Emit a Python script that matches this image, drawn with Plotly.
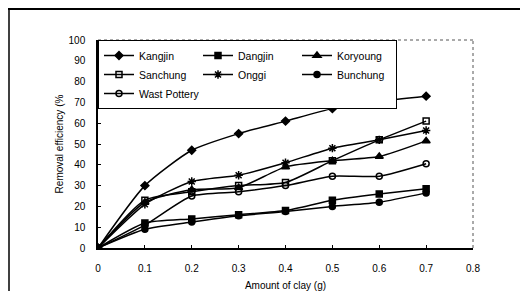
import plotly.graph_objects as go

clay = [0, 0.1, 0.2, 0.3, 0.4, 0.5, 0.6, 0.7]
kangjin = [0, 30, 47, 55, 61, 67, 70.5, 73]
dangjin = [0, 12, 14, 16, 18, 23, 26, 28.5]
koryoung = [0, 22, 28, 29, 39, 42, 44, 51.5]
sanchung = [0, 23, 27, 30, 31.5, 42, 52, 61]
onggi = [0, 21, 32, 35, 41, 48, 52, 56.5]
bunchung = [0, 9, 12.5, 15.5, 17.5, 20, 22, 26.5]
wast = [0, 11, 25, 27, 30, 34.5, 34.5, 40.5]

x_tickvals = [0, 0.1, 0.2, 0.3, 0.4, 0.5, 0.6, 0.7, 0.8]
x_ticktext = ["0", "0.1", "0.2", "0.3", "0.4", "0.5", "0.6", "0.7", "0.8"]

series = [
    ("Kangjin", kangjin, "diamond", 6),
    ("Dangjin", dangjin, "square", 6),
    ("Koryoung", koryoung, "triangle-up", 7),
    ("Sanchung", sanchung, "square-open", 6),
    ("Onggi", onggi, "asterisk-open", 7),
    ("Bunchung", bunchung, "circle", 6),
    ("Wast Pottery", wast, "circle-open", 6),
]

fig = go.Figure()
for name, ys, sym, sz in series:
    fig.add_trace(go.Scatter(
        x=clay, y=ys, name=name, mode="lines+markers",
        line=dict(color="black", width=1.5, shape="spline", smoothing=0.6),
        marker=dict(symbol=sym, size=sz, color="black",
                    line=dict(color="black", width=1.5)),
    ))

# the page body adds an 8px offset; figure sized to fit the window
W, H = 520, 283
L, R, T, B = 90, 55, 32, 43
pw, ph = W - L - R, H - T - B

def px(x):
    return (x - L) / pw

def py(y):
    return (H - B - y) / ph

fig.update_layout(
    width=W, height=H,
    margin=dict(l=L, r=R, t=T, b=B, autoexpand=False),
    paper_bgcolor="white", plot_bgcolor="white",
    font=dict(family="Liberation Sans, Arial, sans-serif", size=10, color="black"),
    showlegend=True,
    legend=dict(
        orientation="h", x=0, y=1, xanchor="left", yanchor="top",
        bgcolor="white", bordercolor="black", borderwidth=1,
        font=dict(size=10.5), entrywidth=54, itemwidth=30,
        tracegroupgap=0,
    ),
    xaxis=dict(
        range=[0, 0.8], tickvals=x_tickvals, ticktext=x_ticktext,
        showgrid=False, zeroline=False, automargin=False,
        showline=True, linecolor="black", linewidth=1.5,
        ticks="inside", ticklen=3, tickcolor="black",
        ticklabelstandoff=10,
        title=dict(text="Amount of clay (g)", font=dict(size=10), standoff=10),
        tickfont=dict(size=10),
    ),
    yaxis=dict(
        range=[0, 100], dtick=10,
        showgrid=False, zeroline=False, automargin=False,
        showline=True, linecolor="black", linewidth=1.5,
        ticks="inside", ticklen=3, tickcolor="black",
        ticklabelstandoff=9,
        title=dict(text="Removal efficiency (%", font=dict(size=10), standoff=3),
        tickfont=dict(size=10),
    ),
    shapes=[
        dict(type="line", xref="paper", yref="paper", x0=0, y0=1, x1=1, y1=1,
             line=dict(color="#555", width=1, dash="dot")),
        dict(type="line", xref="paper", yref="paper", x0=1, y0=0, x1=1, y1=1,
             line=dict(color="#555", width=1, dash="dot")),
        dict(type="line", xref="paper", yref="paper", x0=px(1), y0=py(H), x1=px(1), y1=py(1),
             line=dict(color="black", width=1.5)),
        dict(type="line", xref="paper", yref="paper", x0=px(0), y0=py(1), x1=px(W), y1=py(1),
             line=dict(color="black", width=2)),
    ],
)

fig.write_html("out.html")
